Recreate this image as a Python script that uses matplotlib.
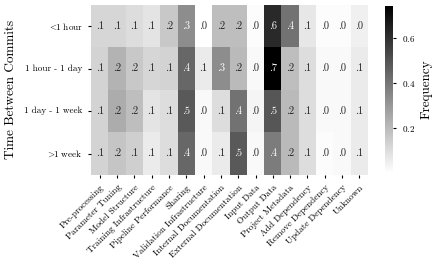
import numpy as np
import matplotlib
matplotlib.use("Agg")
import matplotlib.pyplot as plt
import seaborn as sns

plt.rcParams['font.family'] = ['cmr10']
plt.rcParams['mathtext.fontset'] = 'cm'
plt.rcParams['axes.unicode_minus'] = False
plt.rcParams['axes.formatter.use_mathtext'] = True

categories = ["Pre-processing", "Parameter Tuning", "Model Structure", "Training Infrastructure",
              "Pipeline Performance", "Sharing", "Validation Infrastructure", "Internal Documentation",
              "External Documentation", "Input Data", "Output Data", "Project Metadata",
              "Add Dependency", "Remove Dependency", "Update Dependency", "Unknown"]
intervals = [r"$\!<\!\!$1 hour", "1 hour - 1 day", "1 day - 1 week", r"$\!>\!\!$1 week"]

lt_hour = [0.12, 0.12, 0.10, 0.08, 0.16, 0.33, 0.00, 0.19, 0.19, 0.01, 0.62, 0.41, 0.07, 0.01, 0.01, 0.045]
hour_day = [0.13, 0.22, 0.16, 0.12, 0.13, 0.44, 0.06, 0.33, 0.20, 0.02, 0.74, 0.19, 0.10, 0.02, 0.02, 0.06]
day_week = [0.13, 0.24, 0.19, 0.08, 0.10, 0.48, 0.02, 0.10, 0.41, 0.03, 0.49, 0.20, 0.10, 0.02, 0.02, 0.06]
gt_week = [0.13, 0.17, 0.14, 0.06, 0.10, 0.44, 0.02, 0.06, 0.48, 0.02, 0.38, 0.20, 0.10, 0.01, 0.02, 0.06]

data = np.array([lt_hour, hour_day, day_week, gt_week])
labels = np.vectorize(lambda v: f"{v:.1f}".lstrip("0"))(data)

fig = plt.figure(figsize=(4.36, 2.70), dpi=100)
ax = fig.add_axes([0.209, 0.352, 0.635, 0.63])
cax = fig.add_axes([0.883, 0.359, 0.019, 0.619])

sns.heatmap(data, ax=ax, cbar_ax=cax, cmap="binary", annot=labels, fmt="",
            annot_kws={"fontsize": 7.5}, xticklabels=categories, yticklabels=intervals,
            vmin=0, vmax=data.max())

ax.set_xticklabels(categories, rotation=45, ha="right", rotation_mode="anchor", fontsize=6.6)
ax.set_yticklabels(intervals, rotation=0, fontsize=6.6)
ax.set_ylabel("Time Between Commits", fontsize=9.5, labelpad=5)
ax.tick_params(length=2.5, width=0.8)

cax.set_yticks([0.2, 0.4, 0.6])
cax.tick_params(labelsize=6.6, length=2.5)
cax.set_ylabel("Frequency", fontsize=9.5)

fig.savefig("out.png", dpi=100)
